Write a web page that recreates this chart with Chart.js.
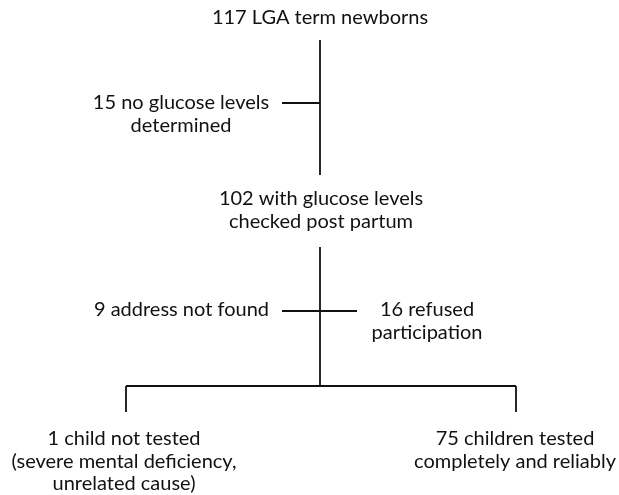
<!DOCTYPE html>
<html>
<head>
<meta charset="utf-8">
<script src="https://cdn.jsdelivr.net/npm/chart.js@4/dist/chart.umd.min.js"></script>
<style>
  html, body { margin: 0; padding: 0; background: #fff; }
  #wrap { width: 619px; height: 495px; }
</style>
</head>
<body>
<div id="wrap"><canvas id="c" width="619" height="495"></canvas></div>
<script>
// ---- data (flow counts and box texts) ----
const counts = [117, 15, 102, 9, 16, 1, 75];
const boxTexts = [
  ["117 LGA term newborns"],
  ["15 no glucose levels", "determined"],
  ["102 with glucose levels", "checked post partum"],
  ["9 address not found"],
  ["16 refused", "participation"],
  ["1 child not tested", "(severe mental deficiency,", "unrelated cause)"],
  ["75 children tested", "completely and reliably"]
];

// ---- layout (in chart units) ----
const boxX = [320, 181, 321, 269, 427, 124, 515];
const boxY = [18, 103, 199, 310, 310, 439, 439];
const boxAlign = ["center", "center", "center", "right", "center", "center", "center"];

// connector segments: [x1, y1, x2, y2]
const segments = [
  [320, 40, 320, 175],
  [282, 103, 320, 103],
  [320, 247, 320, 386],
  [282, 311, 357, 311],
  [126, 386, 516, 386],
  [126, 386, 126, 412],
  [516, 386, 516, 412]
];

const datasets = segments.map(s => ({
  data: [{x: s[0], y: s[1]}, {x: s[2], y: s[3]}],
  showLine: true,
  borderColor: '#111',
  borderWidth: 1.8,
  pointRadius: 0,
  fill: false
}));

const textPlugin = {
  id: 'boxText',
  afterDatasetsDraw(chart) {
    const ctx = chart.ctx;
    const xs = chart.scales.x, ys = chart.scales.y;
    ctx.save();
    ctx.fillStyle = '#111';
    ctx.font = '20px Lato';
    ctx.textBaseline = 'middle';
    const lh = 22.5;
    boxTexts.forEach((lines, i) => {
      const px = xs.getPixelForValue(boxX[i]);
      const py = ys.getPixelForValue(boxY[i]);
      ctx.textAlign = boxAlign[i];
      lines.forEach((t, j) => ctx.fillText(t, px, py + j * lh));
    });
    ctx.restore();
  }
};

new Chart(document.getElementById('c'), {
  type: 'scatter',
  data: { datasets },
  options: {
    responsive: false,
    animation: false,
    layout: { padding: 0 },
    plugins: { legend: { display: false }, tooltip: { enabled: false } },
    scales: {
      x: { type: 'linear', min: 0, max: 619, display: false },
      y: { type: 'linear', min: 0, max: 495, reverse: true, display: false }
    },
    elements: { line: { borderCapStyle: 'butt' } }
  },
  plugins: [textPlugin]
});
</script>
</body>
</html>
